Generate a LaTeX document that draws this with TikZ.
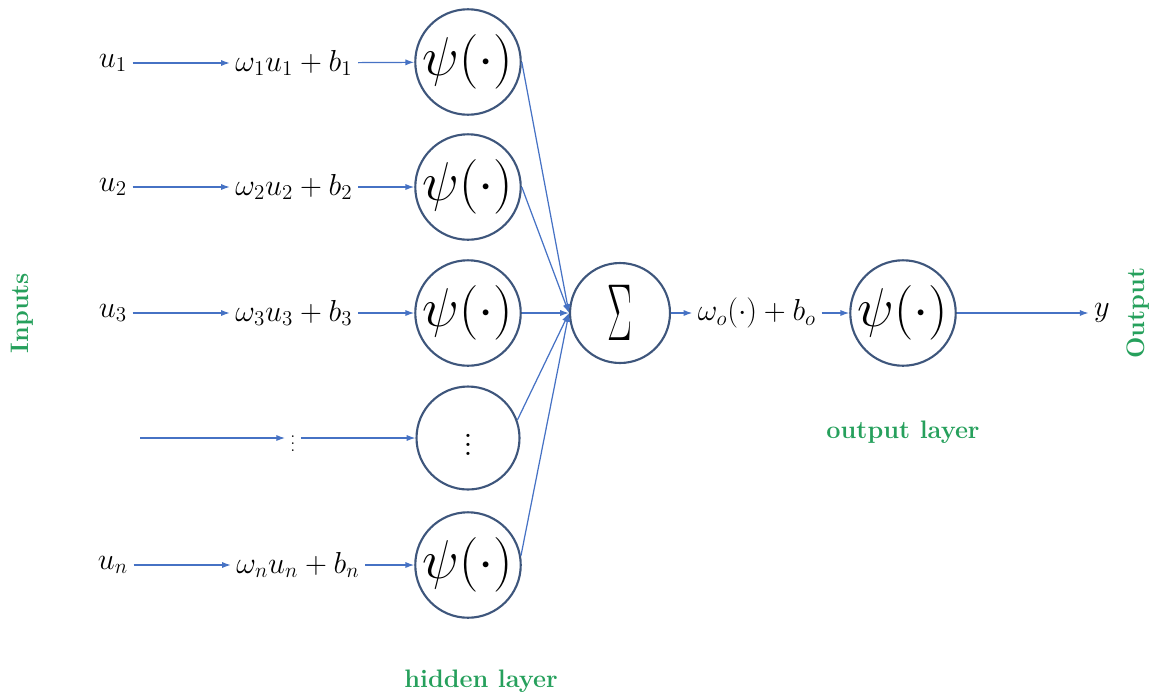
\documentclass[tikz,border=0pt]{standalone}
\usepackage{amsmath,amssymb}
\usepackage{xcolor}
\usetikzlibrary{arrows.meta}
\definecolor{rim}{RGB}{62,86,124}
\definecolor{wire}{RGB}{70,114,196}
\definecolor{ttlgreen}{RGB}{38,160,92}
\newcommand{\actfn}{\scalebox{1.25}{\Huge$\psi(\cdot)$}}
\tikzset{
	neu/.style={draw=rim, circle, line width=1.2pt, minimum size=2.06cm,
		inner sep=0pt, fill=white},
	lbl/.style={font=\LARGE, inner sep=3pt},
	arr/.style={draw=wire, line width=0.7pt, -{Latex[length=5pt,width=3.5pt]}},
	ttl/.style={text=ttlgreen, font=\Large\bfseries},
}

\begin{document}
\begin{tikzpicture}[x=0.02cm, y=-0.02cm]
	\useasboundingbox (0,0) rectangle (1158,697);
	% hidden layer
	\node[neu] at (468,62) (h1) {\actfn};
	\node[neu] at (468,187) (h2) {\actfn};
	\node[neu] at (468,313) (h3) {\actfn};
	\node[neu] at (468,438) (h4) {\scalebox{1.3}{\Large$\vdots$}};
	\node[neu] at (468,565) (hn) {\actfn};
	% sum and output neuron
	\node[neu, minimum size=2.0cm] at (620,313) (sig) {\scalebox{0.85}[1.85]{\Huge$\Sigma$}};
	\node[neu] at (903,313) (out) {\actfn};
	% inputs and weighted sums
	\node[lbl] at (113,63) (u1) {$u_1$};
	\node[lbl] at (113,187) (u2) {$u_2$};
	\node[lbl] at (113,313) (u3) {$u_3$};
	\node[lbl] at (113,565) (un) {$u_n$};
	\coordinate (u4) at (140,438);
	\node[lbl] at (294,63) (w1) {$\omega_1u_1+b_1$};
	\node[lbl] at (294,187) (w2) {$\omega_2u_2+b_2$};
	\node[lbl] at (294,313) (w3) {$\omega_3u_3+b_3$};
	\node[lbl, font=\small] at (293,438) (w4) {$\vdots$};
	\node[lbl] at (298,565) (wn) {$\omega_nu_n+b_n$};
	\node[lbl] at (757,313) (wo) {$\omega_o(\cdot)+b_o$};
	\node[lbl] at (1102,313) (y) {$y$};
	% titles
	\node[ttl, rotate=90] at (22,313) (tin) {Inputs};
	\node[ttl, rotate=90] at (1138,313) (tout) {Output};
	\node[ttl] at (903,432) (tol) {output layer};
	\node[ttl] at (481,681) (thl) {hidden layer};
	% connections
	\draw[arr] (u1) -- (w1);
	\draw[arr] (w1) -- (h1);
	\draw[arr] (u2) -- (w2);
	\draw[arr] (w2) -- (h2);
	\draw[arr] (u3) -- (w3);
	\draw[arr] (w3) -- (h3);
	\draw[arr] (u4) -- (w4);
	\draw[arr] (w4) -- (h4);
	\draw[arr] (un) -- (wn);
	\draw[arr] (wn) -- (hn);
	\draw[arr] (h1.east) -- (sig.west);
	\draw[arr] (h2.east) -- (sig.west);
	\draw[arr] (h3.east) -- (sig.west);
	\draw[arr] (h4.20) -- (sig.west);
	\draw[arr] (hn.10) -- (sig.west);
	\draw[arr] (sig) -- (wo);
	\draw[arr] (wo) -- (out);
	\draw[arr] (out) -- (y);
\end{tikzpicture}
\end{document}
